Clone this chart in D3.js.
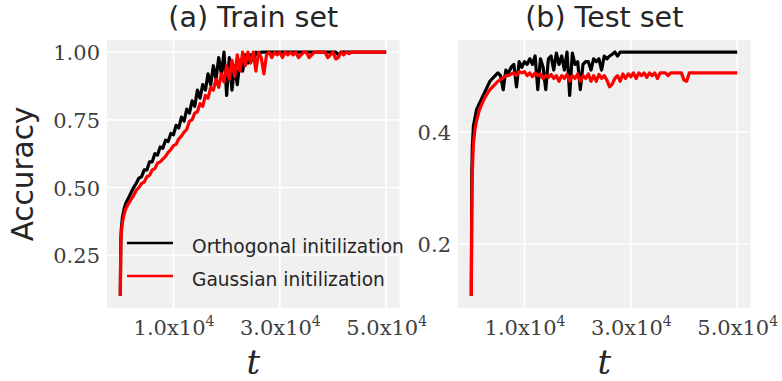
<!DOCTYPE html>
<html><head><meta charset="utf-8">
<script src="https://cdn.jsdelivr.net/npm/d3@7"></script>
<style>body{margin:0;background:#fff}svg{display:block}</style>
</head><body>
<svg id="chart" width="782" height="381"></svg>
<script>
// ---------- data ----------
const tSteps = [0,100,200,400,700,1000,1500,2000,2500,
  3000,3500,4000,4500,5000,5500,6000,6500,7000,7500,
  8000,8500,9000,9500,10000,10500,11000,11500,12000,12500,
  13000,13500,14000,14500,15000,15500,16000,16500,17000,17500,
  18000,18500,19000,19500,20000,20500,21000,21500,22000,22500,
  23000,23500,24000,24500,25000,25500,26000,26500,27000,27500,
  28000,28500,29000,29500,30000,30500,31000,31500,32000,32500,
  33000,33500,34000,34500,35000,35500,36000,36500,37000,37500,
  38000,38500,39000,39500,40000,40500,41000,41500,42000,42500,
  43000,43500,44000,44500,45000,45500,46000,46500,47000,47500,
  48000,48500,49000,49500,50000];

const trainOrtho = [0.10,0.31,0.35,0.39,0.42,0.44,0.46,0.48,0.50,
  0.515,0.535,0.54,0.565,0.565,0.595,0.595,0.625,0.62,0.65,
  0.645,0.675,0.67,0.70,0.695,0.73,0.72,0.76,0.745,0.79,
  0.775,0.82,0.80,0.86,0.83,0.88,0.86,0.92,0.88,0.95,
  0.90,0.98,0.92,1.0,0.84,0.98,0.86,0.95,0.88,0.97,
  0.93,0.99,0.96,0.99,0.97,1.0,0.99,1.0,1.0,1.0,
  1.0,1.0,1.0,1.0,1.0,1.0,1.0,1.0,1.0,1.0,
  1.0,1.0,1.0,1.0,1.0,1.0,1.0,1.0,1.0,1.0,
  1.0,1.0,1.0,1.0,1.0,1.0,0.99,1.0,1.0,1.0,
  1.0,1.0,1.0,1.0,1.0,1.0,1.0,1.0,1.0,1.0,
  1.0,1.0,1.0,1.0,1.0];

const trainGauss = [0.10,0.29,0.335,0.37,0.40,0.42,0.44,0.455,0.47,
  0.49,0.50,0.515,0.52,0.54,0.545,0.565,0.57,0.59,0.595,
  0.605,0.615,0.63,0.64,0.655,0.66,0.68,0.69,0.705,0.715,
  0.745,0.75,0.775,0.78,0.81,0.80,0.84,0.83,0.87,0.86,
  0.90,0.87,0.92,0.89,0.95,0.90,0.97,0.91,0.99,0.93,
  1.0,0.95,1.0,0.96,1.0,0.93,1.0,0.98,0.92,0.99,
  1.0,0.98,1.0,0.99,1.0,0.98,1.0,0.99,1.0,0.99,
  1.0,0.98,0.99,1.0,1.0,0.98,0.99,1.0,1.0,1.0,
  1.0,1.0,0.98,0.99,1.0,0.975,0.98,1.0,0.99,1.0,
  0.995,1.0,1.0,1.0,1.0,1.0,1.0,1.0,1.0,1.0,
  1.0,1.0,1.0,1.0,1.0];

const testOrtho = [0.108,0.33,0.375,0.41,0.425,0.44,0.45,0.46,0.47,
  0.48,0.49,0.495,0.50,0.505,0.50,0.475,0.51,0.505,0.515,
  0.52,0.48,0.525,0.515,0.525,0.52,0.53,0.52,0.535,0.475,
  0.53,0.515,0.475,0.53,0.535,0.51,0.54,0.52,0.535,0.51,
  0.542,0.465,0.54,0.52,0.525,0.475,0.52,0.525,0.525,0.51,
  0.53,0.525,0.53,0.51,0.535,0.53,0.535,0.538,0.542,0.535,
  0.542,0.542,0.542,0.542,0.542,0.542,0.542,0.542,0.542,0.542,
  0.542,0.542,0.542,0.542,0.542,0.542,0.542,0.542,0.542,0.542,
  0.542,0.542,0.542,0.542,0.542,0.542,0.542,0.542,0.542,0.542,
  0.542,0.542,0.542,0.542,0.542,0.542,0.542,0.542,0.542,0.542,
  0.542,0.542,0.542,0.542,0.542];

const testGauss = [0.108,0.26,0.33,0.38,0.405,0.42,0.438,0.45,0.46,
  0.468,0.475,0.48,0.485,0.49,0.493,0.496,0.50,0.50,0.503,
  0.505,0.50,0.507,0.505,0.507,0.50,0.505,0.498,0.505,0.50,
  0.503,0.495,0.50,0.497,0.502,0.495,0.50,0.49,0.50,0.495,
  0.502,0.49,0.50,0.495,0.503,0.49,0.50,0.495,0.503,0.49,
  0.50,0.49,0.502,0.495,0.50,0.492,0.48,0.485,0.495,0.50,
  0.49,0.503,0.495,0.503,0.498,0.505,0.495,0.505,0.50,0.505,
  0.497,0.505,0.50,0.505,0.495,0.505,0.505,0.505,0.50,0.505,
  0.505,0.505,0.505,0.505,0.492,0.49,0.505,0.505,0.505,0.505,
  0.505,0.505,0.505,0.505,0.505,0.505,0.505,0.505,0.505,0.505,
  0.505,0.505,0.505,0.505,0.505];

const xTicks = [10000, 30000, 50000];
const trainYTicks = [0.25, 0.50, 0.75, 1.00];
const testYTicks = [0.2, 0.4];
const panelTitles = ["(a) Train set", "(b) Test set"];
const seriesNames = ["Orthogonal initilization", "Gaussian initilization"];
const seriesColors = ["#000000", "#ff0000"];

// ---------- drawing ----------
const svg = d3.select("#chart");
const PLOT_TOP = 40, PLOT_BOTTOM = 308;

const panels = [
  {x0: 107, x1: 399.5, yDomain: [0.055, 1.045], yTicks: trainYTicks, yFmt: d3.format(".2f"),
   series: [trainOrtho, trainGauss], title: panelTitles[0], id: "a"},
  {x0: 458, x1: 750.5, yDomain: [0.086, 0.5635], yTicks: testYTicks, yFmt: d3.format(".1f"),
   series: [testOrtho, testGauss], title: panelTitles[1], id: "b"}
];

const tickColor = "#404040";
const textColor = "#262626";

panels.forEach((p, pi) => {
  const x = d3.scaleLinear().domain([-2500, 52500]).range([p.x0, p.x1]);
  const y = d3.scaleLinear().domain(p.yDomain).range([PLOT_BOTTOM, PLOT_TOP]);

  const g = svg.append("g");
  g.append("rect").attr("x", p.x0).attr("y", PLOT_TOP)
    .attr("width", p.x1 - p.x0).attr("height", PLOT_BOTTOM - PLOT_TOP)
    .attr("fill", "#f0f0f0");

  // grid
  g.append("g").selectAll("line").data(xTicks).join("line")
    .attr("x1", d => x(d)).attr("x2", d => x(d))
    .attr("y1", PLOT_TOP).attr("y2", PLOT_BOTTOM)
    .attr("stroke", "#ffffff").attr("stroke-width", 1.6);
  g.append("g").selectAll("line").data(p.yTicks).join("line")
    .attr("x1", p.x0).attr("x2", p.x1)
    .attr("y1", d => y(d)).attr("y2", d => y(d))
    .attr("stroke", "#ffffff").attr("stroke-width", 1.6);

  // axes (labels only)
  const yAxis = g.append("g").attr("transform", `translate(${p.x0},0)`)
    .call(d3.axisLeft(y).tickValues(p.yTicks).tickFormat(p.yFmt).tickSize(0).tickPadding(7));
  yAxis.select(".domain").remove();
  yAxis.selectAll("text").attr("font-family", "DejaVu Serif").attr("font-size", 21)
    .attr("fill", tickColor).attr("dy", "0.36em");

  const xAxis = g.append("g").attr("transform", `translate(0,${PLOT_BOTTOM})`)
    .call(d3.axisBottom(x).tickValues(xTicks).tickSize(0));
  xAxis.select(".domain").remove();
  xAxis.selectAll("text").each(function(d) {
    const e = Math.floor(Math.log10(d));
    const m = d / Math.pow(10, e);
    const t = d3.select(this).text(null)
      .attr("font-family", "DejaVu Serif").attr("font-size", 21)
      .attr("fill", tickColor).attr("y", 27).attr("dy", 0);
    t.append("tspan").text(d3.format(".1f")(m) + "x10");
    t.append("tspan").attr("dy", -9).attr("font-size", 14).text(e);
  });

  // clip
  const clipId = "clip" + p.id;
  svg.append("clipPath").attr("id", clipId).append("rect")
    .attr("x", p.x0).attr("y", PLOT_TOP).attr("width", p.x1 - p.x0).attr("height", PLOT_BOTTOM - PLOT_TOP);

  const line = d3.line().x((d, i) => x(tSteps[i])).y(d => y(d));
  p.series.forEach((s, si) => {
    g.append("path").datum(s).attr("d", line)
      .attr("fill", "none").attr("stroke", seriesColors[si])
      .attr("stroke-width", 3.2).attr("stroke-linejoin", "round")
      .attr("clip-path", `url(#${clipId})`);
  });

  // title
  g.append("text").attr("x", (p.x0 + p.x1) / 2).attr("y", 27)
    .attr("text-anchor", "middle").attr("font-family", "DejaVu Sans")
    .attr("font-size", 28.5).attr("fill", textColor).text(p.title);

  // x label
  g.append("text").attr("x", (p.x0 + p.x1) / 2).attr("y", 374)
    .attr("text-anchor", "middle").attr("font-family", "DejaVu Serif")
    .attr("font-style", "italic").attr("font-size", 34).attr("fill", textColor).text("t");

  if (pi === 0) {
    // y label
    svg.append("text").attr("transform", "translate(33,174) rotate(-90)")
      .attr("text-anchor", "middle").attr("font-family", "DejaVu Sans")
      .attr("font-size", 29.5).attr("fill", textColor).text("Accuracy");

    // legend
    const leg = svg.append("g");
    seriesNames.forEach((name, i) => {
      const ly = 243 + i * 33;
      leg.append("line").attr("x1", 127).attr("x2", 173).attr("y1", ly).attr("y2", ly)
        .attr("stroke", seriesColors[i]).attr("stroke-width", 2.6);
      leg.append("text").attr("x", 192).attr("y", ly + 10)
        .attr("font-family", "DejaVu Sans").attr("font-size", 18.6)
        .attr("fill", textColor).text(name);
    });
  }
});
</script>
</body></html>
